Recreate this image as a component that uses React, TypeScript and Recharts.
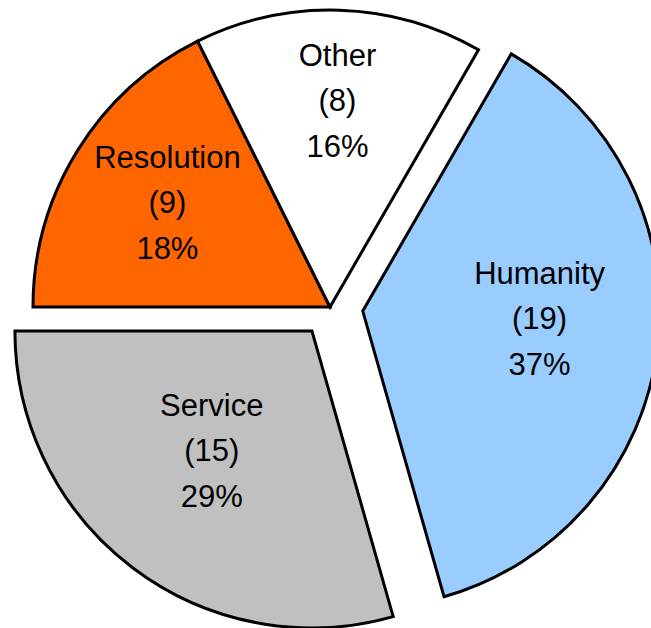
import { PieChart, Pie, Cell } from 'recharts'

const NAMES = ['Resolution', 'Other', 'Humanity', 'Service']
const COUNTS = [9, 8, 19, 15]
const COLORS = ['#FF6600', '#FFFFFF', '#99CCFF', '#C0C0C0']

// how far each exploded slice is pulled out (px)
const EXPLODE: Record<string, number> = { Humanity: 33, Service: 30 }

// label radius (fraction of outer radius) and angle nudge (deg)
const LABEL_PLACE: Record<string, { r: number; turn: number }> = {
  Resolution: { r: 0.651, turn: -1 },
  Other: { r: 0.697, turn: -0.3 },
  Humanity: { r: 0.596, turn: 4.8 },
  Service: { r: 0.525, turn: -2.9 },
}

const DATA = NAMES.map((name, i) => ({ name, value: COUNTS[i] }))

const CX = 330
const CY = 307
const R = 297
const START = 180
const END = -180
const RADIAN = Math.PI / 180
const FONT = '"Liberation Sans", Arial, sans-serif'

function midAngleOf(name: string) {
  const total = COUNTS.reduce((a, b) => a + b, 0)
  let cum = 0
  for (let i = 0; i < NAMES.length; i++) {
    if (NAMES[i] === name) {
      return START + ((END - START) * (cum + COUNTS[i] / 2)) / total
    }
    cum += COUNTS[i]
  }
  return 0
}

function makeLabel(visible: string[]) {
  return (props: any) => {
    const { cx, cy, midAngle, outerRadius, index, value, percent } = props
    const name = NAMES[index]
    if (!visible.includes(name)) return null
    const place = LABEL_PLACE[name]
    const a = (midAngle + place.turn) * RADIAN
    const x = cx + outerRadius * place.r * Math.cos(a)
    const y = cy - outerRadius * place.r * Math.sin(a) + 11
    const lines = [name, `(${value})`, `${Math.round(percent * 100)}%`]
    return (
      <text
        key={`lbl-${name}`}
        textAnchor="middle"
        fontFamily={FONT}
        fontSize={31}
        fill="#000"
      >
        {lines.map((t, k) => (
          <tspan key={k} x={x} y={y + (k - 1) * 45.5}>{t}</tspan>
        ))}
      </text>
    )
  }
}

const GROUPS = [
  { id: 'base', dx: 0, dy: 0, visible: NAMES.filter((n) => !(n in EXPLODE)) },
  ...Object.keys(EXPLODE).map((n) => {
    const m = midAngleOf(n) * RADIAN
    return { id: n, dx: EXPLODE[n] * Math.cos(m), dy: -EXPLODE[n] * Math.sin(m), visible: [n] }
  }),
]

export default function App() {
  return (
    <div style={{ position: 'absolute', left: 0, top: 0, width: 651, height: 628, background: '#fff' }}>
      <PieChart width={651} height={628} margin={{ top: 0, right: 0, bottom: 0, left: 0 }}>
        {GROUPS.map((g) => (
          <Pie
            key={g.id}
            data={DATA}
            dataKey="value"
            nameKey="name"
            cx={CX + g.dx}
            cy={CY + g.dy}
            outerRadius={R}
            startAngle={START}
            endAngle={END}
            isAnimationActive={false}
            labelLine={false}
            label={makeLabel(g.visible)}
          >
            {DATA.map((d, i) =>
              g.visible.includes(d.name) ? (
                <Cell key={d.name} fill={COLORS[i]} stroke="#000" strokeWidth={3} strokeLinejoin="miter" />
              ) : (
                <Cell key={d.name} fill="none" stroke="none" />
              )
            )}
          </Pie>
        ))}
      </PieChart>
    </div>
  )
}
